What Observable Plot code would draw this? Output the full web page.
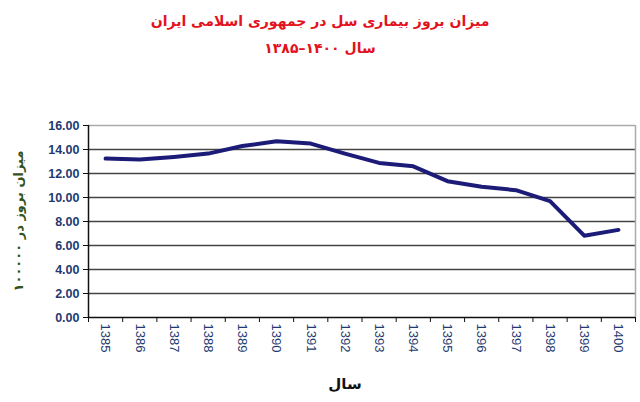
<!DOCTYPE html>
<html>
<head>
<meta charset="utf-8">
<script src="https://cdn.jsdelivr.net/npm/d3@7"></script>
<script src="https://cdn.jsdelivr.net/npm/@observablehq/plot@0.6"></script>
<style>
  body { margin: 0; background: #fff; font-family: "Liberation Sans", Arial, sans-serif; }
  #wrap { position: relative; width: 640px; height: 402px; overflow: hidden; }
  #title { position: absolute; left: 0; top: 8px; width: 640px; text-align: center; direction: rtl;
           color: #e3121c; font-family: "DejaVu Sans", "Noto Sans", sans-serif; font-weight: bold; font-size: 14px; line-height: 27px; }
  #chart { position: absolute; left: 0; top: 62px; }
  #ytitle { position: absolute; left: 18px; top: 221px; transform: translate(-50%, -50%) rotate(-90deg);
            white-space: nowrap; direction: rtl; color: #34521a; font-family: "DejaVu Sans", "Noto Sans", sans-serif; font-weight: bold; font-size: 13px; }
  #xtitle { position: absolute; left: 345px; top: 384px; transform: translate(-50%, -50%);
            direction: rtl; color: #111; font-family: "DejaVu Sans", "Noto Sans", sans-serif; font-weight: bold; font-size: 15px; }
</style>
</head>
<body>
<div id="wrap">
  <div id="title"></div>
  <div id="chart"></div>
  <div id="ytitle"></div>
  <div id="xtitle"></div>
</div>
<script>
const titleLines = ["میزان بروز بیماری سل در جمهوری اسلامی ایران", "سال ۱۴۰۰–۱۳۸۵"];
const yTitle = "میزان بروز در ۱۰۰۰۰۰";
const xTitle = "سال";
const years = [1385, 1386, 1387, 1388, 1389, 1390, 1391, 1392, 1393, 1394, 1395, 1396, 1397, 1398, 1399, 1400];
const incidence = [13.24, 13.16, 13.38, 13.66, 14.29, 14.68, 14.49, 13.66, 12.88, 12.6, 11.36, 10.89, 10.61, 9.7, 6.82, 7.3];
const yTicks = [0, 2, 4, 6, 8, 10, 12, 14, 16];

document.getElementById("title").innerHTML = titleLines.map(t => `<div>${t}</div>`).join("");
document.getElementById("ytitle").textContent = yTitle;
document.getElementById("xtitle").textContent = xTitle;

const data = years.map((y, i) => ({year: y, value: incidence[i]}));
const boundaries = [...years.map(y => y - 0.5), years[years.length - 1] + 0.5];

const chart = Plot.plot({
  width: 640,
  height: 340,
  marginLeft: 88,
  marginRight: 5,
  marginTop: 63,
  marginBottom: 85,
  style: {fontFamily: "Liberation Sans, Arial, sans-serif", background: "transparent"},
  x: {type: "linear", domain: [years[0] - 0.5, years[years.length - 1] + 0.5]},
  y: {domain: [0, 16]},
  marks: [
    Plot.ruleY(yTicks.slice(1, -1), {stroke: "#444", strokeWidth: 1.6}),
    Plot.ruleY([16], {stroke: "#aaa", strokeWidth: 1.5}),
    Plot.ruleX([years[years.length - 1] + 0.5], {stroke: "#aaa", strokeWidth: 1.5}),
    Plot.axisY({ticks: yTicks, tickFormat: d => d.toFixed(2), tickSize: 5, tickPadding: 4,
                fill: "#1f3a70", fontWeight: "bold", fontSize: 12.5, label: null, stroke: "#111"}),
    Plot.ruleX([years[0] - 0.5], {stroke: "#111", strokeWidth: 1.5}),
    Plot.ruleY([0], {stroke: "#111", strokeWidth: 1.5}),
    Plot.axisX({ticks: boundaries, tickFormat: () => "", tickSize: 5, label: null, stroke: "#111"}),
    Plot.axisX({ticks: years, tickFormat: d => String(d), tickSize: 0, tickPadding: 6, tickRotate: 90,
                fill: "#1f3a70", fontSize: 13, label: null}),
    Plot.line(data, {x: "year", y: "value", stroke: "#1c1c78", strokeWidth: 4, strokeLinejoin: "round", strokeLinecap: "round"})
  ]
});
document.getElementById("chart").appendChild(chart);
</script>
</body>
</html>
